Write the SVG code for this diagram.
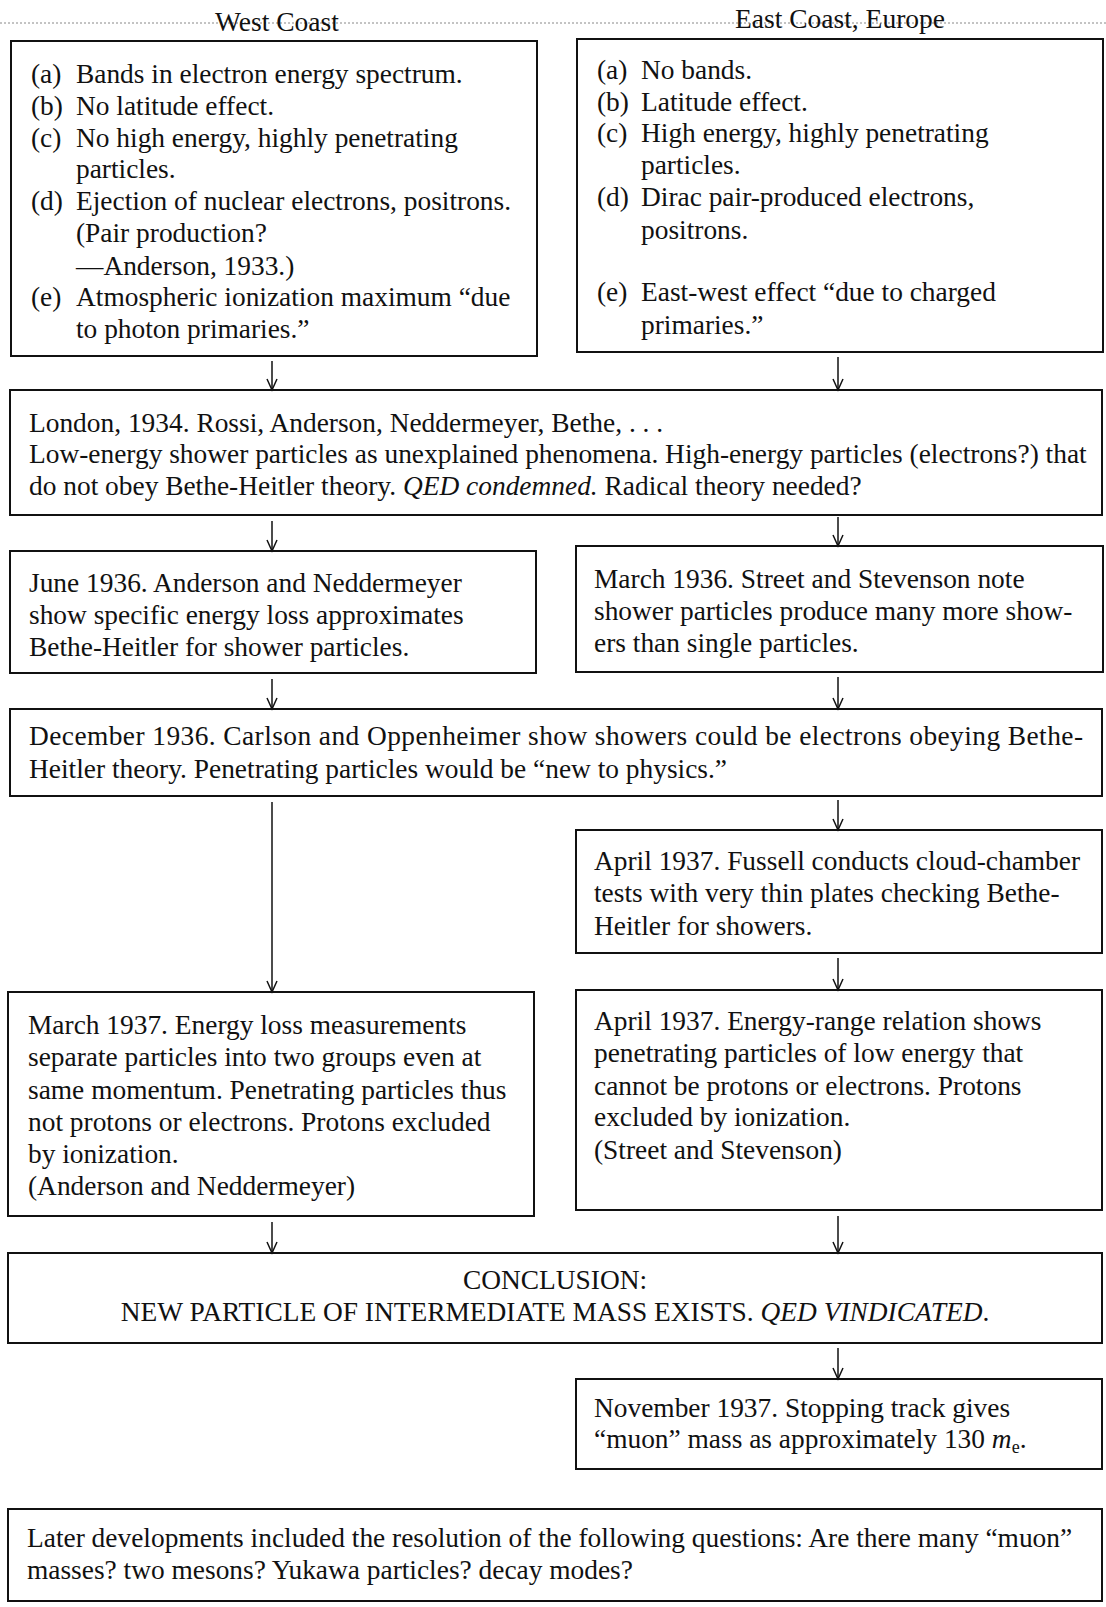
<svg xmlns="http://www.w3.org/2000/svg" width="1106" height="1607" viewBox="0 0 1106 1607">
<defs>
<style>
text{font-family:"Liberation Serif","Times New Roman",serif;font-size:27.4px;fill:#111;}
.hdr{font-size:27.5px;text-anchor:middle;}
.box{fill:none;stroke:#111;stroke-width:2;}
.conn{stroke:#111;stroke-width:1.5;fill:none;}
.it{font-style:italic;}
.mid{text-anchor:middle;}
</style>
<marker id="ah" markerWidth="14" markerHeight="12" refX="12" refY="6" orient="auto" markerUnits="userSpaceOnUse" viewBox="0 0 14 12">
<polyline points="1,1 12,6 1,11" fill="none" stroke="#111" stroke-width="1.5"/>
</marker>
</defs>
<rect width="1106" height="1607" fill="#fff"/>
<g id="header">
<line x1="0" y1="23" x2="1106" y2="23" stroke="#888" stroke-width="1" stroke-dasharray="2,2"/>
<text class="hdr" x="277" y="31">West Coast</text>
<text class="hdr" x="840" y="28">East Coast, Europe</text>
</g>
<g id="connectors">
<line class="conn" x1="272" y1="361" x2="272" y2="390" marker-end="url(#ah)"/>
<line class="conn" x1="838" y1="357" x2="838" y2="390" marker-end="url(#ah)"/>
<line class="conn" x1="272" y1="521" x2="272" y2="551" marker-end="url(#ah)"/>
<line class="conn" x1="838" y1="517" x2="838" y2="546" marker-end="url(#ah)"/>
<line class="conn" x1="272" y1="679" x2="272" y2="709" marker-end="url(#ah)"/>
<line class="conn" x1="838" y1="677" x2="838" y2="709" marker-end="url(#ah)"/>
<line class="conn" x1="272" y1="802" x2="272" y2="992" marker-end="url(#ah)"/>
<line class="conn" x1="838" y1="800" x2="838" y2="830" marker-end="url(#ah)"/>
<line class="conn" x1="838" y1="958" x2="838" y2="990" marker-end="url(#ah)"/>
<line class="conn" x1="272" y1="1222" x2="272" y2="1253" marker-end="url(#ah)"/>
<line class="conn" x1="838" y1="1216" x2="838" y2="1253" marker-end="url(#ah)"/>
<line class="conn" x1="838" y1="1348" x2="838" y2="1379" marker-end="url(#ah)"/>
</g>
<g id="west">
<rect class="box" x="11" y="41" width="526" height="315"/>
<text x="31" y="83">(a)</text><text x="76" y="83">Bands in electron energy spectrum.</text>
<text x="31" y="115">(b)</text><text x="76" y="115">No latitude effect.</text>
<text x="31" y="147">(c)</text><text x="76" y="147">No high energy, highly penetrating</text>
<text x="76" y="178">particles.</text>
<text x="31" y="210">(d)</text><text x="76" y="210">Ejection of nuclear electrons, positrons.</text>
<text x="76" y="242">(Pair production?</text>
<text x="76" y="275">—Anderson, 1933.)</text>
<text x="31" y="306">(e)</text><text x="76" y="306">Atmospheric ionization maximum “due</text>
<text x="76" y="338">to photon primaries.”</text>
</g>
<g id="east">
<rect class="box" x="577" y="39" width="526" height="313"/>
<text x="597" y="79">(a)</text><text x="641" y="79">No bands.</text>
<text x="597" y="111">(b)</text><text x="641" y="111">Latitude effect.</text>
<text x="597" y="142">(c)</text><text x="641" y="142">High energy, highly penetrating</text>
<text x="641" y="174">particles.</text>
<text x="597" y="206">(d)</text><text x="641" y="206">Dirac pair-produced electrons,</text>
<text x="641" y="239">positrons.</text>
<text x="597" y="301">(e)</text><text x="641" y="301">East-west effect “due to charged</text>
<text x="641" y="334">primaries.”</text>
</g>
<g id="london">
<rect class="box" x="10" y="390" width="1092" height="125"/>
<text x="29" y="432">London, 1934. Rossi, Anderson, Neddermeyer, Bethe, . . .</text>
<text x="29" y="463">Low-energy shower particles as unexplained phenomena. High-energy particles (electrons?) that</text>
<text x="29" y="495">do not obey Bethe-Heitler theory. <tspan class="it">QED condemned.</tspan> Radical theory needed?</text>
</g>
<g id="june1936">
<rect class="box" x="10" y="551" width="526" height="122"/>
<text x="29" y="592">June 1936. Anderson and Neddermeyer</text>
<text x="29" y="624">show specific energy loss approximates</text>
<text x="29" y="656">Bethe-Heitler for shower particles.</text>
</g>
<g id="march1936">
<rect class="box" x="576" y="546" width="527" height="126"/>
<text x="594" y="588">March 1936. Street and Stevenson note</text>
<text x="594" y="620">shower particles produce many more show-</text>
<text x="594" y="652">ers than single particles.</text>
</g>
<g id="dec1936">
<rect class="box" x="10" y="709" width="1092" height="87"/>
<text x="29" y="745" textLength="1054" lengthAdjust="spacing">December 1936. Carlson and Oppenheimer show showers could be electrons obeying Bethe-</text>
<text x="29" y="778">Heitler theory. Penetrating particles would be “new to physics.”</text>
</g>
<g id="april1937a">
<rect class="box" x="576" y="830" width="526" height="123"/>
<text x="594" y="870">April 1937. Fussell conducts cloud-chamber</text>
<text x="594" y="902">tests with very thin plates checking Bethe-</text>
<text x="594" y="935">Heitler for showers.</text>
</g>
<g id="march1937">
<rect class="box" x="8" y="992" width="526" height="224"/>
<text x="28" y="1034">March 1937. Energy loss measurements</text>
<text x="28" y="1066">separate particles into two groups even at</text>
<text x="28" y="1099">same momentum. Penetrating particles thus</text>
<text x="28" y="1131">not protons or electrons. Protons excluded</text>
<text x="28" y="1163">by ionization.</text>
<text x="28" y="1195">(Anderson and Neddermeyer)</text>
</g>
<g id="april1937b">
<rect class="box" x="576" y="990" width="526" height="220"/>
<text x="594" y="1030">April 1937. Energy-range relation shows</text>
<text x="594" y="1062">penetrating particles of low energy that</text>
<text x="594" y="1095">cannot be protons or electrons. Protons</text>
<text x="594" y="1126">excluded by ionization.</text>
<text x="594" y="1159">(Street and Stevenson)</text>
</g>
<g id="conclusion">
<rect class="box" x="8" y="1253" width="1094" height="90"/>
<text class="mid" x="555" y="1289">CONCLUSION:</text>
<text class="mid" x="555" y="1321">NEW PARTICLE OF INTERMEDIATE MASS EXISTS. <tspan class="it">QED VINDICATED</tspan>.</text>
</g>
<g id="nov1937">
<rect class="box" x="576" y="1379" width="526" height="90"/>
<text x="594" y="1417">November 1937. Stopping track gives</text>
<text x="594" y="1448">“muon” mass as approximately 130 <tspan class="it">m</tspan><tspan font-size="18" dy="5">e</tspan><tspan dy="-5">.</tspan></text>
</g>
<g id="later">
<rect class="box" x="8" y="1509" width="1094" height="92"/>
<text x="27" y="1547">Later developments included the resolution of the following questions: Are there many “muon”</text>
<text x="27" y="1579">masses? two mesons? Yukawa particles? decay modes?</text>
</g>
</svg>
